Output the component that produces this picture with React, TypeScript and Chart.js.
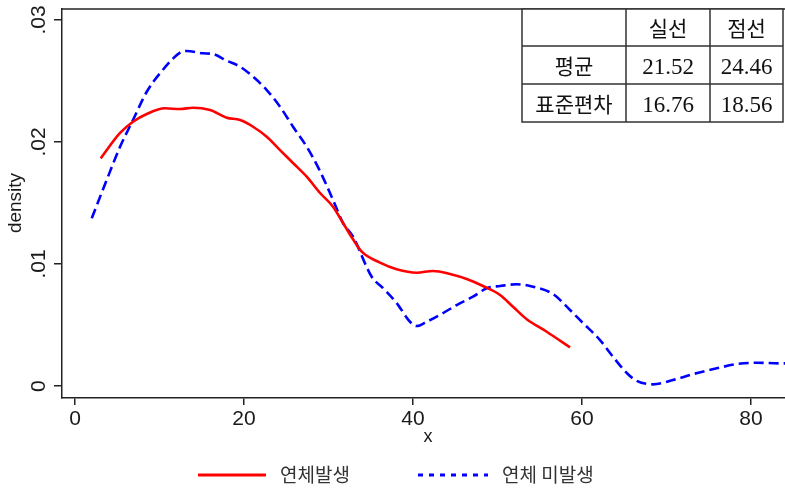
import React, { useEffect, useRef } from "react";
import { Chart, registerables } from "chart.js";

Chart.register(...registerables);

// ---- data ----
const redX = [3.04, 5.33, 6.86, 8.49, 10.65, 12.43, 13.96, 15.98, 17.95, 19.53, 21.07, 22.69, 24.26, 25.8, 27.42, 29.0, 30.53, 31.72, 32.8, 33.93, 36.09, 38.07, 40.44, 42.37, 44.38, 46.35, 48.28, 50.3, 51.83, 53.46, 55.82, 58.58];
const redY = [0.01866, 0.02074, 0.02166, 0.0223, 0.02276, 0.0227, 0.02281, 0.02262, 0.02199, 0.0218, 0.02125, 0.02043, 0.01934, 0.01828, 0.01716, 0.01582, 0.0147, 0.01336, 0.01213, 0.01101, 0.01011, 0.00957, 0.00929, 0.00943, 0.00918, 0.00877, 0.0082, 0.00746, 0.0065, 0.00547, 0.00445, 0.00317];

const blueX = [1.98, 3.75, 5.33, 6.86, 8.49, 10.06, 12.43, 13.22, 15.15, 16.33, 17.95, 19.53, 21.07, 22.69, 24.26, 25.8, 27.42, 29.0, 30.53, 31.72, 32.9, 35.11, 36.45, 38.07, 39.64, 40.44, 41.62, 43.55, 45.17, 47.1, 48.72, 50.3, 52.27, 54.2, 56.57, 58.58, 60.12, 62.13, 63.67, 65.29, 66.47, 68.4, 70.77, 73.14, 75.94, 78.31, 80.67, 83.43, 84.5];
const blueY = [0.01375, 0.01689, 0.01961, 0.0218, 0.02412, 0.02563, 0.02732, 0.02746, 0.02727, 0.02721, 0.02666, 0.02617, 0.02535, 0.02426, 0.02289, 0.02125, 0.01961, 0.0176, 0.01525, 0.01336, 0.01224, 0.00896, 0.00803, 0.0068, 0.00527, 0.00492, 0.00527, 0.00598, 0.00664, 0.00732, 0.00801, 0.0082, 0.00834, 0.00814, 0.00754, 0.00623, 0.00516, 0.00377, 0.0024, 0.00107, 0.00043, 0.00014, 0.00049, 0.00098, 0.00145, 0.0018, 0.00191, 0.00186, 0.00186];

const xTicks = [0, 20, 40, 60, 80];
const xTickLabels = ["0", "20", "40", "60", "80"];
const yTicks = [0, 0.01, 0.02, 0.03];
const yTickLabels = ["0", ".01", ".02", ".03"];

const seriesNames = ["연체발생", "연체 미발생"];
const xTitle = "x";
const yTitle = "density";

const tableHeader = ["", "실선", "점선"];
const tableRowLabels = ["평균", "표준편차"];
const solidStats = ["21.52", "16.76"];
const dashStats = ["24.46", "18.56"];

const RED = "#ff0000";
const BLUE = "#0000ff";
const INK = "#1a1a1a";

const decorPlugin = {
  id: "decor",
  afterDraw(chart: any) {
    const ctx: CanvasRenderingContext2D = chart.ctx;
    const { left, right, top, bottom } = chart.chartArea;
    const xs = chart.scales.x;
    const ys = chart.scales.y;
    ctx.save();

    // top frame line
    ctx.strokeStyle = "#222";
    ctx.lineWidth = 1.5;
    ctx.beginPath();
    ctx.moveTo(left, top);
    ctx.lineTo(right, top);
    ctx.stroke();

    // x tick labels
    ctx.fillStyle = INK;
    ctx.font = '21px "Liberation Sans", Arial, sans-serif';
    ctx.textAlign = "center";
    ctx.textBaseline = "alphabetic";
    xTicks.forEach((v, i) => {
      ctx.fillText(xTickLabels[i], xs.getPixelForValue(v), bottom + 27);
    });

    // y tick labels (rotated)
    yTicks.forEach((v, i) => {
      ctx.save();
      ctx.translate(left - 17, ys.getPixelForValue(v));
      ctx.rotate(-Math.PI / 2);
      ctx.fillText(yTickLabels[i], 0, 0);
      ctx.restore();
    });

    // y title
    ctx.font = '19px "Liberation Sans", Arial, sans-serif';
    ctx.save();
    ctx.translate(21, 203);
    ctx.rotate(-Math.PI / 2);
    ctx.fillText(yTitle, 0, 0);
    ctx.restore();

    // x title
    ctx.font = '18px "Liberation Sans", Arial, sans-serif';
    ctx.fillText(xTitle, 428, 442);

    // legend
    const ly = 475;
    ctx.lineWidth = 3;
    ctx.strokeStyle = RED;
    ctx.setLineDash([]);
    ctx.beginPath();
    ctx.moveTo(198, ly);
    ctx.lineTo(266, ly);
    ctx.stroke();
    ctx.strokeStyle = BLUE;
    ctx.setLineDash([5, 6]);
    ctx.beginPath();
    ctx.moveTo(418, ly);
    ctx.lineTo(488, ly);
    ctx.stroke();
    ctx.setLineDash([]);
    ctx.fillStyle = "#333";
    ctx.font = '19px "Noto Sans CJK KR", sans-serif';
    ctx.textAlign = "left";
    ctx.textBaseline = "middle";
    ctx.fillText(seriesNames[0], 280, ly);
    ctx.fillText(seriesNames[1], 502, ly);

    // table
    const cx = [522, 626, 710, 783];
    const ry = [9, 46, 84, 122];
    ctx.fillStyle = "#fff";
    ctx.fillRect(cx[0], ry[0], cx[3] - cx[0], ry[3] - ry[0]);
    ctx.strokeStyle = "#333";
    ctx.lineWidth = 1.5;
    ctx.strokeRect(cx[0], ry[0], cx[3] - cx[0], ry[3] - ry[0]);
    ctx.beginPath();
    [cx[1], cx[2]].forEach((x) => {
      ctx.moveTo(x, ry[0]);
      ctx.lineTo(x, ry[3]);
    });
    [ry[1], ry[2]].forEach((y) => {
      ctx.moveTo(cx[0], y);
      ctx.lineTo(cx[3], y);
    });
    ctx.stroke();

    const colC = [(cx[0] + cx[1]) / 2, (cx[1] + cx[2]) / 2, (cx[2] + cx[3]) / 2];
    const rowC = [(ry[0] + ry[1]) / 2, (ry[1] + ry[2]) / 2, (ry[2] + ry[3]) / 2];
    ctx.fillStyle = "#111";
    ctx.textAlign = "center";
    ctx.textBaseline = "middle";
    ctx.font = '21px "Noto Sans CJK KR", serif';
    ctx.fillText(tableHeader[1], colC[1], rowC[0] + 1);
    ctx.fillText(tableHeader[2], colC[2], rowC[0] + 1);
    ctx.fillText(tableRowLabels[0], colC[0], rowC[1] + 1);
    ctx.fillText(tableRowLabels[1], colC[0], rowC[2] + 1);
    ctx.font = '23px "Liberation Serif", "Times New Roman", serif';
    ctx.textBaseline = "alphabetic";
    for (let r = 0; r < 2; r++) {
      ctx.fillText(solidStats[r], colC[1], rowC[r + 1] + 9);
      ctx.fillText(dashStats[r], colC[2], rowC[r + 1] + 9);
    }

    ctx.restore();
  },
};

export default function App() {
  const ref = useRef<HTMLCanvasElement>(null);

  useEffect(() => {
    const canvas = ref.current;
    if (!canvas) return;
    const chart = new Chart(canvas, {
      type: "line",
      data: {
        datasets: [
          {
            label: seriesNames[0],
            data: redX.map((x, i) => ({ x, y: redY[i] })),
            borderColor: RED,
            borderWidth: 2.6,
            pointRadius: 0,
            fill: false,
            cubicInterpolationMode: "monotone",
          },
          {
            label: seriesNames[1],
            data: blueX.map((x, i) => ({ x, y: blueY[i] })),
            borderColor: BLUE,
            borderWidth: 2.6,
            borderDash: [10, 5],
            pointRadius: 0,
            fill: false,
            cubicInterpolationMode: "monotone",
          },
        ],
      },
      options: {
        animation: false,
        responsive: false,
        maintainAspectRatio: false,
        layout: { padding: { top: 9, left: 0, right: 0, bottom: 0 } },
        plugins: { legend: { display: false }, tooltip: { enabled: false } },
        scales: {
          x: {
            type: "linear",
            min: -1.54,
            max: 84.02,
            afterBuildTicks: (s: any) => {
              s.ticks = xTicks.map((v) => ({ value: v }));
            },
            afterFit: (s: any) => {
              s.height = 92;
            },
            ticks: { display: false },
            grid: { drawOnChartArea: false, drawTicks: true, tickLength: 7, color: "#222", lineWidth: 1.5 },
            border: { display: true, color: "#222", width: 1.5 },
          },
          y: {
            type: "linear",
            min: -0.00098,
            max: 0.0309,
            afterBuildTicks: (s: any) => {
              s.ticks = yTicks.map((v) => ({ value: v }));
            },
            afterFit: (s: any) => {
              s.width = 62;
            },
            ticks: { display: false },
            grid: { drawOnChartArea: false, drawTicks: true, tickLength: 8, color: "#222", lineWidth: 1.5 },
            border: { display: true, color: "#222", width: 1.5 },
          },
        },
      } as any,
      plugins: [decorPlugin],
    });
    return () => chart.destroy();
  }, []);

  return (
    <div style={{ position: "fixed", left: 0, top: 0, width: 785, height: 490, background: "#fff" }}>
      <canvas ref={ref} width={785} height={490} style={{ width: 785, height: 490, display: "block" }} />
    </div>
  );
}
